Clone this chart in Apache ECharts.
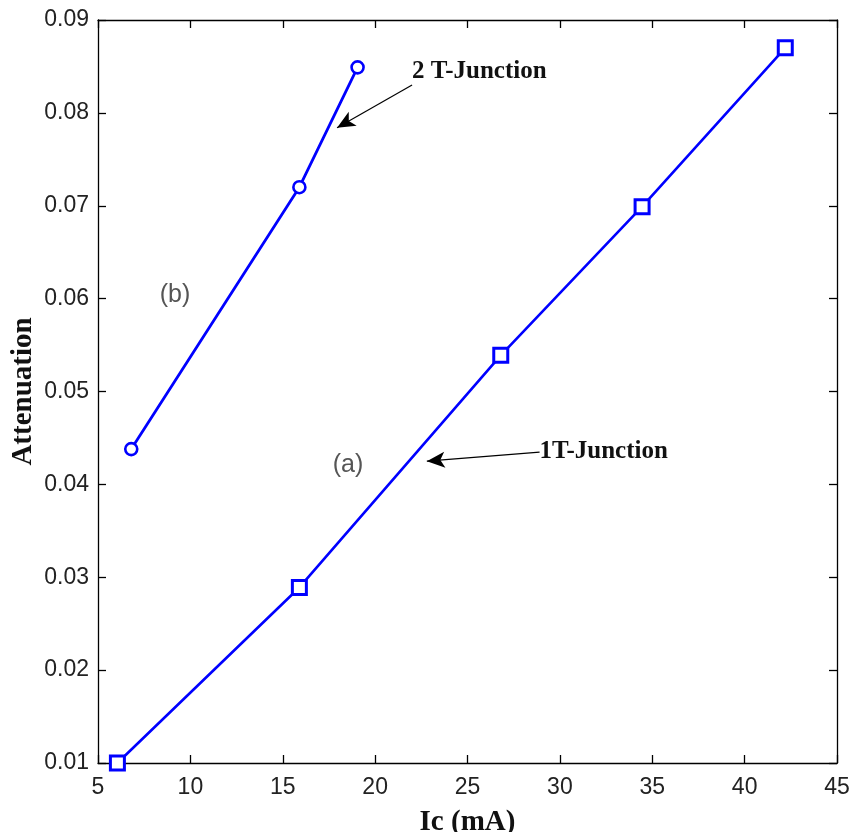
<!DOCTYPE html>
<html>
<head>
<meta charset="utf-8">
<script src="https://cdn.jsdelivr.net/npm/echarts@6/dist/echarts.min.js"></script>
<style>html,body{margin:0;padding:0;background:#fff;overflow:hidden}#c{width:850px;height:832px;display:block}</style>
</head>
<body>
<div id="c"></div>
<script>
// Series (a): 1 T-Junction (squares)
var icA = [6.05, 15.9, 26.8, 34.45, 42.2];
var attA = [0.0100, 0.0289, 0.0539, 0.0699, 0.0870];
// Series (b): 2 T-Junction (circles)
var icB = [6.8, 15.9, 19.05];
var attB = [0.0438, 0.0720, 0.0849];
// axis ticks
var xTicks = [5, 10, 15, 20, 25, 30, 35, 40, 45];
var yTicks = [0.01, 0.02, 0.03, 0.04, 0.05, 0.06, 0.07, 0.08, 0.09];
// annotations: [text, x, y]
var labelTexts = [["2 T-Junction", 22.0, 0.0844], ["1T-Junction", 28.9, 0.04358]];
var curveTags = [["(b)", 9.17, 0.0604], ["(a)", 18.53, 0.0421]];
// arrows: [[fromX, fromY], [toX, toY]]
var arrows = [[[22.0, 0.0830], [17.94, 0.0784]], [[28.9, 0.04348], [22.8, 0.0425]]];

var tickFont = {fontFamily: "'Liberation Sans', Arial, sans-serif", fontSize: 23, color: '#222'};
var serifBold = "'Liberation Serif', 'Times New Roman', serif";

function pairs(xs, ys){ return xs.map(function(x,i){return [x, ys[i]];}); }

var axisLineStyle = {color: '#000', width: 1.3};
function xAx(pos, showLabels){
  return {
    type: 'value', position: pos, min: xTicks[0], max: xTicks[xTicks.length-1], interval: 5,
    axisLine: {show: true, onZero: false, lineStyle: axisLineStyle},
    axisTick: {show: true, inside: true, length: 8, lineStyle: axisLineStyle},
    axisLabel: Object.assign({show: showLabels, margin: 13}, tickFont),
    splitLine: {show: false},
    name: showLabels ? 'Ic (mA)' : '', nameLocation: 'middle', nameGap: 45, nameMoveOverlap: false,
    nameTextStyle: {fontFamily: serifBold, fontWeight: 'bold', fontSize: 29, color: '#111'}
  };
}
function yAx(pos, showLabels){
  return {
    type: 'value', position: pos, min: yTicks[0], max: yTicks[yTicks.length-1], interval: 0.01,
    axisLine: {show: true, onZero: false, lineStyle: axisLineStyle},
    axisTick: {show: true, inside: true, length: 8, lineStyle: axisLineStyle},
    axisLabel: Object.assign({show: showLabels, margin: 9, formatter: function(v){return v.toFixed(2);}}, tickFont),
    splitLine: {show: false},
    name: showLabels ? 'Attenuation' : '', nameLocation: 'middle', nameGap: 60, nameRotate: 90, nameMoveOverlap: false,
    nameTextStyle: {fontFamily: serifBold, fontWeight: 'bold', fontSize: 29, color: '#111'}
  };
}

var chart = echarts.init(document.getElementById('c'), null, {renderer: 'canvas', width: 850, height: 832});
var option = {
  animation: false,
  backgroundColor: '#fff',
  grid: {left: 98, right: 13, top: 20, bottom: 69, containLabel: false, outerBoundsMode: 'none'},
  xAxis: [xAx('bottom', true), xAx('top', false)],
  yAxis: [yAx('left', true), yAx('right', false)],
  series: [
    {
      type: 'line', name: '1T-Junction', data: pairs(icA, attA),
      symbol: 'rect', symbolSize: 14, showAllSymbol: true,
      itemStyle: {color: '#fff', borderColor: '#0000ff', borderWidth: 3},
      lineStyle: {color: '#0000ff', width: 2.6},
      markLine: {
        silent: true, symbol: ['none', 'arrow'], symbolSize: [12, 18], animation: false,
        lineStyle: {color: '#000', width: 1.2, type: 'solid'}, label: {show: false},
        data: arrows.map(function(a){ return [{coord: a[0]}, {coord: a[1]}]; })
      }
    },
    {
      type: 'line', name: '2 T-Junction', data: pairs(icB, attB),
      symbol: 'circle', symbolSize: 12, showAllSymbol: true,
      itemStyle: {color: '#fff', borderColor: '#0000ff', borderWidth: 2.6},
      lineStyle: {color: '#0000ff', width: 2.8}
    }
  ]
};
chart.setOption(option);

var g = [];
labelTexts.forEach(function(t){
  var p = chart.convertToPixel({gridIndex: 0}, [t[1], t[2]]);
  g.push({type: 'text', x: p[0], y: p[1], style: {text: t[0], font: 'bold 25px ' + serifBold, fill: '#111', textVerticalAlign: 'middle', textAlign: 'left'}});
});
curveTags.forEach(function(t){
  var p = chart.convertToPixel({gridIndex: 0}, [t[1], t[2]]);
  g.push({type: 'text', x: p[0], y: p[1], style: {text: t[0], font: '25px "Liberation Sans", Arial, sans-serif', fill: '#555', textVerticalAlign: 'middle', textAlign: 'center'}});
});
chart.setOption({graphic: g});
</script>
</body>
</html>
